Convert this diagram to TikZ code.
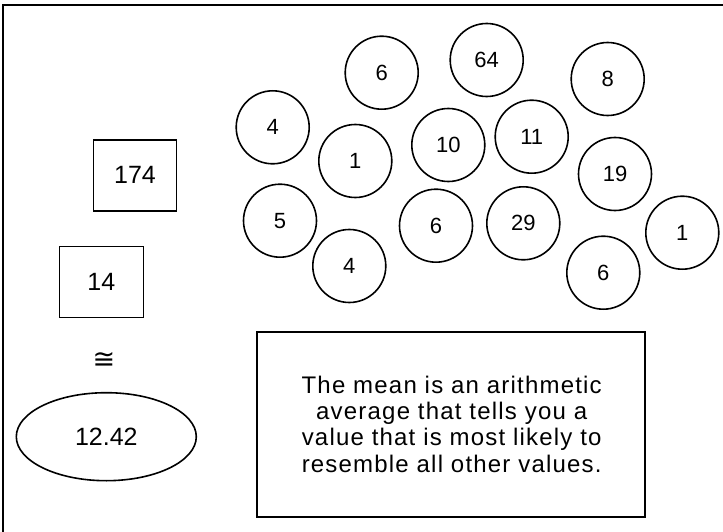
\documentclass[tikz,border=0pt]{standalone}
\usepackage{fontspec}
\setmainfont{Liberation Sans}
\newfontfamily\dejavu{DejaVu Sans}
\newfontfamily\widesans[LetterSpace=5]{Liberation Sans}
\usetikzlibrary{shapes.geometric}
\begin{document}
\begin{tikzpicture}[x=1pt,y=-1pt,
  num/.style={circle,draw,line width=1.6pt,minimum size=73pt,inner sep=0pt,font=\fontsize{22}{25}\selectfont},
  valbox/.style={rectangle,draw,line width=1.6pt,inner sep=0pt,font=\fontsize{25}{28}\selectfont},
  frame/.style={line width=1.8pt}]
\useasboundingbox (0,0) rectangle (723,532);
\coordinate (tl) at (3.3,5);
\coordinate (tr) at (723,5);
\coordinate (bl) at (3.3,532);
\draw[frame] (tr) -- (tl) -- (bl);
% circles
\node[num] (c1) at (381.7,72.7) {6};
\node[num] (c2) at (486.7,60) {64};
\node[num] (c3) at (607.7,79) {8};
\node[num] (c4) at (272.7,127.3) {4};
\node[num] (c5) at (355.3,161) {1};
\node[num] (c6) at (448.3,145) {10};
\node[num] (c7) at (531.7,136.7) {11};
\node[num] (c8) at (615,174) {19};
\node[num] (c9) at (280,220.7) {5};
\node[num] (c10) at (436,225.7) {6};
\node[num] (c11) at (523.3,223.3) {29};
\node[num] (c12) at (682.3,232.7) {1};
\node[num] (c13) at (349.3,266) {4};
\node[num] (c14) at (603.3,272.7) {6};
% left column
\node[valbox,minimum width=83pt,minimum height=71pt] (sum) at (135,175.3) {174};
\node[valbox,minimum width=84pt,minimum height=71pt] (cnt) at (101.3,282) {14};
\node[inner sep=0pt,font=\dejavu\fontsize{27}{30}\selectfont] (approx) at (104,360) {≅};
\node[ellipse,draw,line width=1.6pt,minimum width=180pt,minimum height=88pt,inner sep=0pt,font=\fontsize{25}{28}\selectfont] (mean) at (106.3,436.7) {12.42};
% text box
\node[draw,line width=1.6pt,minimum width=388pt,minimum height=185pt,inner sep=0pt] (txt) at (450.8,424.2) {};
\node[align=center,font=\widesans\fontsize{24}{26.3}\selectfont] (txtlabel) at (451.7,424) {The mean is an arithmetic\\average that tells you a\\value that is most likely to\\resemble all other values.};
\end{tikzpicture}
\end{document}
